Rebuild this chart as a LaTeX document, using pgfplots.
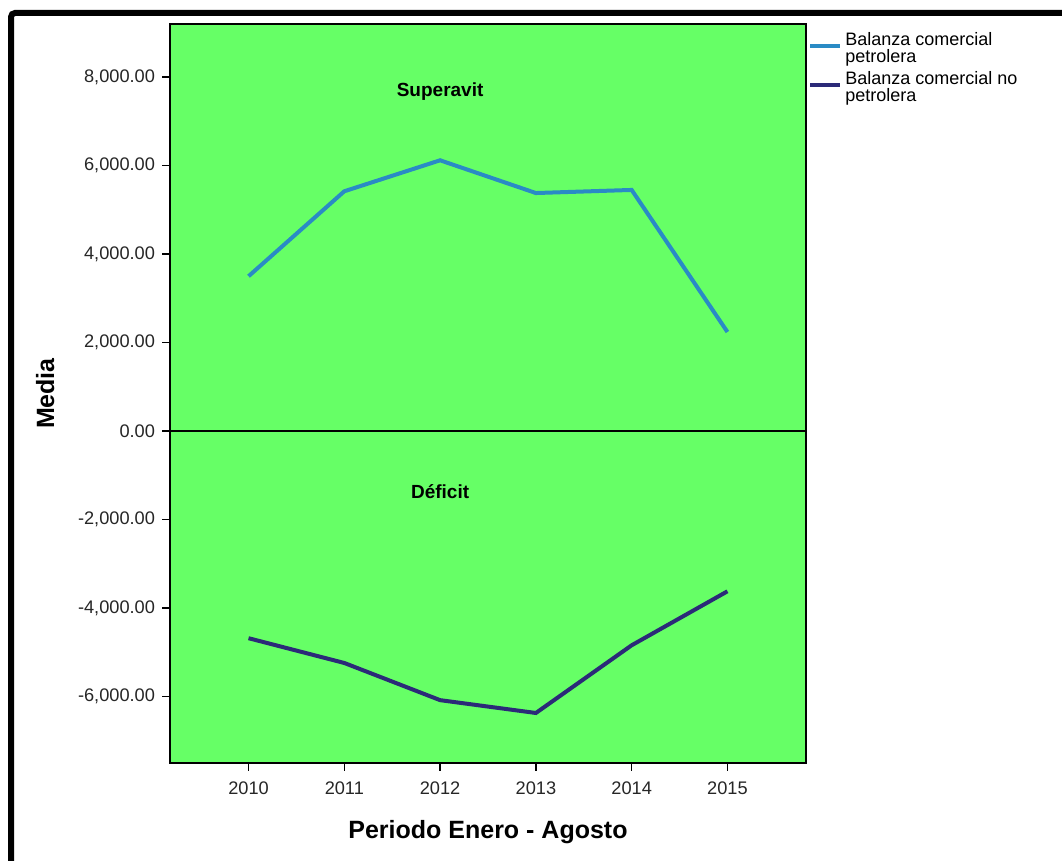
\documentclass[border=0pt]{standalone}
\usepackage{pgfplots}
\pgfplotsset{compat=1.18}
\usepackage{fontspec}
\setmainfont{Liberation Sans}
\definecolor{bggreen}{HTML}{66FF66}
\definecolor{petro}{HTML}{2A8BC5}
\definecolor{nopetro}{HTML}{2B2A78}
\begin{document}
\begin{tikzpicture}
\useasboundingbox (0,0) rectangle (531pt,430.5pt);
\draw[line width=3pt, rounded corners=2pt] (5.5pt,0pt) -- (5.5pt,424pt) -- (531pt,424pt);
\begin{axis}[
  at={(85pt,49pt)}, anchor=south west,
  scale only axis, width=318pt, height=369.5pt,
  xmin=2009.18, xmax=2015.82,
  ymin=-7500, ymax=9200,
  axis background/.style={fill=bggreen},
  axis line style={black, line width=0.7pt},
  xtick={2010,2011,2012,2013,2014,2015},
  xticklabels={2010,2011,2012,2013,2014,2015},
  ytick={-6000,-4000,-2000,0,2000,4000,6000,8000},
  tick align=outside,
  xtick pos=bottom, ytick pos=left,
  major tick length=4pt,
  tick style={black, line width=0.7pt},
  /pgf/number format/assume math mode=true,
  yticklabel style={/pgf/number format/.cd, fixed, fixed zerofill, precision=2, 1000 sep={,}},
  ticklabel style={font=\fontsize{9.1}{10}\selectfont, text=black!85},
  xticklabel style={yshift=-2pt},
  xlabel={\textbf{Periodo Enero - Agosto}},
  ylabel={\textbf{Media}},
  label style={font=\fontsize{12.5}{14}\selectfont},
  xlabel style={yshift=-6pt},
  ylabel style={yshift=5pt},
  legend style={at={(1,1)}, anchor=north west, draw=none, fill=none,
    xshift=1pt, yshift=-2pt, inner xsep=0pt, inner ysep=0pt,
    font=\fontsize{9}{8.5}\selectfont, row sep=-1pt,
    cells={align=left, anchor=west}, nodes={inner xsep=1.5pt}},
  legend cell align=left,
  legend image code/.code={\draw[#1, line width=2pt] (0pt,1.5pt) -- (15pt,1.5pt);},
]
\addplot[petro, line width=2pt] coordinates {
  (2010,3500) (2011,5420) (2012,6120) (2013,5380) (2014,5450) (2015,2240)};
\addlegendentry{Balanza comercial\\petrolera}
\addplot[nopetro, line width=2pt] coordinates {
  (2010,-4680) (2011,-5240) (2012,-6080) (2013,-6370) (2014,-4840) (2015,-3620)};
\addlegendentry{Balanza comercial no\\petrolera}
\draw[black, line width=1pt] (axis cs:2009.18,0) -- (axis cs:2015.82,0);
\node[font=\fontsize{9.5}{11}\bfseries] at (axis cs:2012,7680) {Superavit};
\node[font=\fontsize{9.5}{11}\bfseries] at (axis cs:2012,-1360) {Déficit};
\end{axis}
\end{tikzpicture}
\end{document}
